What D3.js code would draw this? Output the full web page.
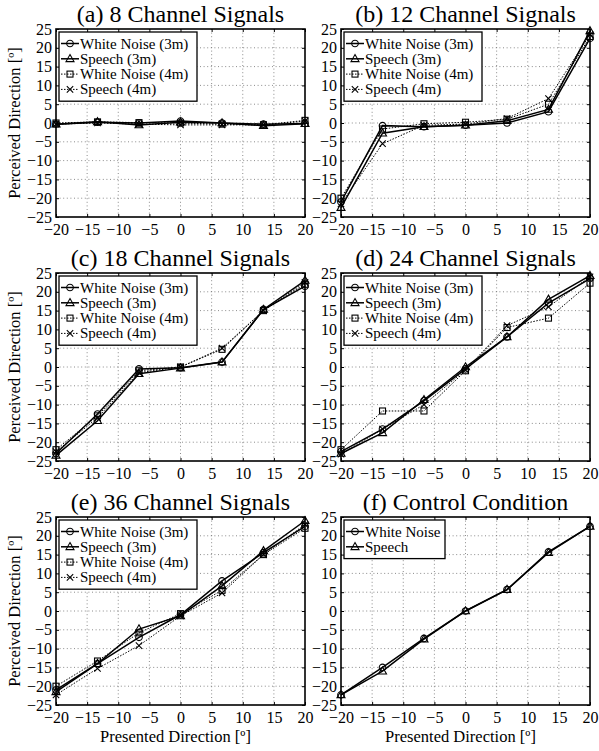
<!DOCTYPE html>
<html>
<head>
<meta charset="utf-8">
<script src="https://cdn.jsdelivr.net/npm/d3@7"></script>
<style>
  body { margin: 0; }
  #chart text { font-family: "Liberation Serif" !important; }
</style>
</head>
<body>
<svg id="chart" width="599" height="751"></svg>
<script>
// ---------------- DATA ----------------
const presented = [-20, -13.33, -6.67, 0, 6.67, 13.33, 20];
const xTicks = [-20, -15, -10, -5, 0, 5, 10, 15, 20];
const yTicks = [-25, -20, -15, -10, -5, 0, 5, 10, 15, 20, 25];

const titles = ["(a) 8 Channel Signals", "(b) 12 Channel Signals", "(c) 18 Channel Signals",
                "(d) 24 Channel Signals", "(e) 36 Channel Signals", "(f) Control Condition"];
const seriesNames4 = ["White Noise (3m)", "Speech (3m)", "White Noise (4m)", "Speech (4m)"];
const seriesNames2 = ["White Noise", "Speech"];

// (a) 8 channel
const a_wn3 = [-0.3, 0.2, 0.0, 0.5, 0.0, -0.3, -0.1];
const a_sp3 = [-0.3, 0.3, -0.5, 0.2, 0.0, -0.7, -0.2];
const a_wn4 = [0.0, 0.3, 0.1, 0.0, -0.3, -0.5, 0.7];
const a_sp4 = [-0.3, 0.0, -0.3, -0.5, -0.5, -0.5, 0.5];
// (b) 12 channel
const b_wn3 = [-21.0, -0.7, -1.0, -0.6, 0.0, 3.0, 22.5];
const b_sp3 = [-22.5, -2.7, -1.0, -0.6, 0.6, 3.6, 24.5];
const b_wn4 = [-20.0, -1.6, -0.2, 0.2, 1.0, 5.0, 23.0];
const b_sp4 = [-21.5, -5.5, -0.6, -0.3, 1.2, 6.5, 23.5];
// (c) 18 channel
const c_wn3 = [-23.0, -12.5, -0.5, -0.2, 1.3, 15.3, 21.5];
const c_sp3 = [-23.5, -14.3, -1.8, -0.3, 1.3, 15.3, 23.0];
const c_wn4 = [-22.0, -13.0, -1.0, 0.0, 4.7, 15.0, 22.0];
const c_sp4 = [-22.5, -13.5, -1.5, 0.0, 5.0, 15.0, 22.5];
// (d) 24 channel
const d_wn3 = [-22.5, -16.5, -9.0, -0.5, 8.0, 17.0, 23.5];
const d_sp3 = [-23.0, -17.5, -8.7, 0.0, 8.0, 18.0, 24.3];
const d_wn4 = [-22.0, -11.7, -11.7, -1.0, 10.5, 13.0, 22.3];
const d_sp4 = [-23.2, -16.5, -10.0, -0.8, 11.0, 16.0, 24.0];
// (e) 36 channel
const e_wn3 = [-21.0, -14.0, -7.0, -1.0, 8.0, 15.5, 22.5];
const e_sp3 = [-21.5, -14.0, -4.8, -1.3, 6.7, 16.0, 24.0];
const e_wn4 = [-20.0, -13.3, -5.8, -0.7, 5.5, 15.0, 22.0];
const e_sp4 = [-22.3, -15.3, -9.2, -1.3, 4.8, 15.0, 23.0];
// (f) control
const f_wn = [-22.3, -15.0, -7.3, 0.0, 5.7, 15.7, 22.5];
const f_sp = [-22.3, -16.0, -7.5, 0.0, 5.7, 15.5, 22.5];

const panelData = [
  [a_wn3, a_sp3, a_wn4, a_sp4],
  [b_wn3, b_sp3, b_wn4, b_sp4],
  [c_wn3, c_sp3, c_wn4, c_sp4],
  [d_wn3, d_sp3, d_wn4, d_sp4],
  [e_wn3, e_sp3, e_wn4, e_sp4],
  [f_wn, f_sp]
];
const markers = ["circle", "triangle", "square", "cross"];
const dotted = [false, false, true, true];

// ---------------- LAYOUT ----------------
const FONT = '"Liberation Serif"';
const svg = d3.select("#chart");
const colLeft = [56, 341];
const rowTop = [29, 273, 517];
const pw = 249, ph = 188;

function drawMarker(g, type, cx, cy) {
  const s = g.append("g").attr("transform", `translate(${cx},${cy})`);
  let el;
  if (type === "circle") el = s.append("circle").attr("r", 3.3);
  else if (type === "triangle") el = s.append("path").attr("d", "M0,-4.2L4,2.8L-4,2.8Z");
  else if (type === "square") el = s.append("rect").attr("x", -3).attr("y", -3).attr("width", 6).attr("height", 6);
  else el = s.append("path").attr("d", "M-3.2,-3.2L3.2,3.2M-3.2,3.2L3.2,-3.2");
  el.attr("stroke", "#000").attr("stroke-width", 1.1).attr("fill", "none");
}

function setFont(sel) {
  return sel.attr("font-family", FONT).style("font-family", FONT, "important");
}
function addText(parent, str, size) {
  return setFont(parent.append("text")).attr("font-size", size).attr("fill", "#000").text(str);
}

panelData.forEach((series, i) => {
  const col = i % 2, row = Math.floor(i / 2);
  const L = colLeft[col], T = rowTop[row];
  const g = svg.append("g").attr("transform", `translate(${L},${T})`);
  const x = d3.scaleLinear().domain([-20, 20]).range([0, pw]);
  const y = d3.scaleLinear().domain([-25, 25]).range([ph, 0]);

  // grid
  g.append("g").selectAll("line").data(xTicks.slice(1, -1)).join("line")
    .attr("x1", d => x(d)).attr("x2", d => x(d)).attr("y1", 0).attr("y2", ph)
    .attr("stroke", "#6f6f6f").attr("stroke-width", 0.8).attr("stroke-dasharray", "1,2.6");
  g.append("g").selectAll("line").data(yTicks.slice(1, -1)).join("line")
    .attr("y1", d => y(d)).attr("y2", d => y(d)).attr("x1", 0).attr("x2", pw)
    .attr("stroke", "#6f6f6f").attr("stroke-width", 0.8).attr("stroke-dasharray", "1,2.6");

  // axes (ticks inward, box)
  const tl = 3;
  const axB = g.append("g").attr("transform", `translate(0,${ph})`)
    .call(d3.axisBottom(x).tickValues(xTicks).tickSizeInner(-tl).tickSizeOuter(0).tickPadding(7).tickFormat(d3.format("d")));
  const axT = g.append("g")
    .call(d3.axisTop(x).tickValues(xTicks).tickSizeInner(-tl).tickSizeOuter(0));
  const axL = g.append("g")
    .call(d3.axisLeft(y).tickValues(yTicks).tickSizeInner(-tl).tickSizeOuter(0).tickPadding(4).tickFormat(d3.format("d")));
  const axR = g.append("g").attr("transform", `translate(${pw},0)`)
    .call(d3.axisRight(y).tickValues(yTicks).tickSizeInner(-tl).tickSizeOuter(0));
  axT.selectAll("text").remove();
  axR.selectAll("text").remove();
  [axB, axT, axL, axR].forEach(a => {
    setFont(a).attr("font-size", 16);
    a.select(".domain").remove();
    a.selectAll("line").attr("stroke", "#000").attr("stroke-width", 1);
    setFont(a.selectAll("text")).attr("font-size", 16).attr("fill", "#000");
  });
  axB.selectAll("text").attr("dy", "0.71em");
  g.append("rect").attr("x", 0).attr("y", 0).attr("width", pw).attr("height", ph)
    .attr("fill", "none").attr("stroke", "#000").attr("stroke-width", 1.6);

  // series
  const line = d3.line().x((d, k) => x(presented[k])).y(d => y(d));
  series.forEach((vals, s) => {
    g.append("path").datum(vals).attr("d", line).attr("fill", "none").attr("stroke", "#000")
      .attr("stroke-width", dotted[s] ? 1 : 1.5)
      .attr("stroke-dasharray", dotted[s] ? "1.5,1.5" : null);
    vals.forEach((v, k) => drawMarker(g, markers[s], x(presented[k]), y(v)));
  });

  // title
  addText(svg, titles[i], 24).attr("x", L + pw / 2).attr("y", T - 7).attr("text-anchor", "middle");

  // legend
  const names = series.length === 4 ? seriesNames4 : seriesNames2;
  const lw = series.length === 4 ? 138 : 101;
  const lh = names.length * 15.3 + 8;
  const lg = g.append("g").attr("transform", "translate(3,3)");
  lg.append("rect").attr("width", lw).attr("height", lh).attr("fill", "#fff").attr("stroke", "#000").attr("stroke-width", 1.3);
  names.forEach((n, s) => {
    const yy = 11.5 + s * 15.3;
    lg.append("line").attr("x1", 2).attr("x2", 20).attr("y1", yy).attr("y2", yy).attr("stroke", "#000")
      .attr("stroke-width", dotted[s] ? 1 : 1.5).attr("stroke-dasharray", dotted[s] ? "1.5,1.5" : null);
    drawMarker(lg, markers[s], 11, yy);
    addText(lg, n, 15).attr("x", 21).attr("y", yy + 5);
  });

  // axis labels
  if (col === 0) {
    addText(svg, "Perceived Direction [º]", 16.5)
      .attr("transform", `translate(${20},${T + ph / 2}) rotate(-90)`)
      .attr("text-anchor", "middle");
  }
  if (row === 2) {
    addText(svg, "Presented Direction [º]", 16.5)
      .attr("x", L + pw / 2 - 5).attr("y", 742).attr("text-anchor", "middle");
  }
});
</script>
</body>
</html>
